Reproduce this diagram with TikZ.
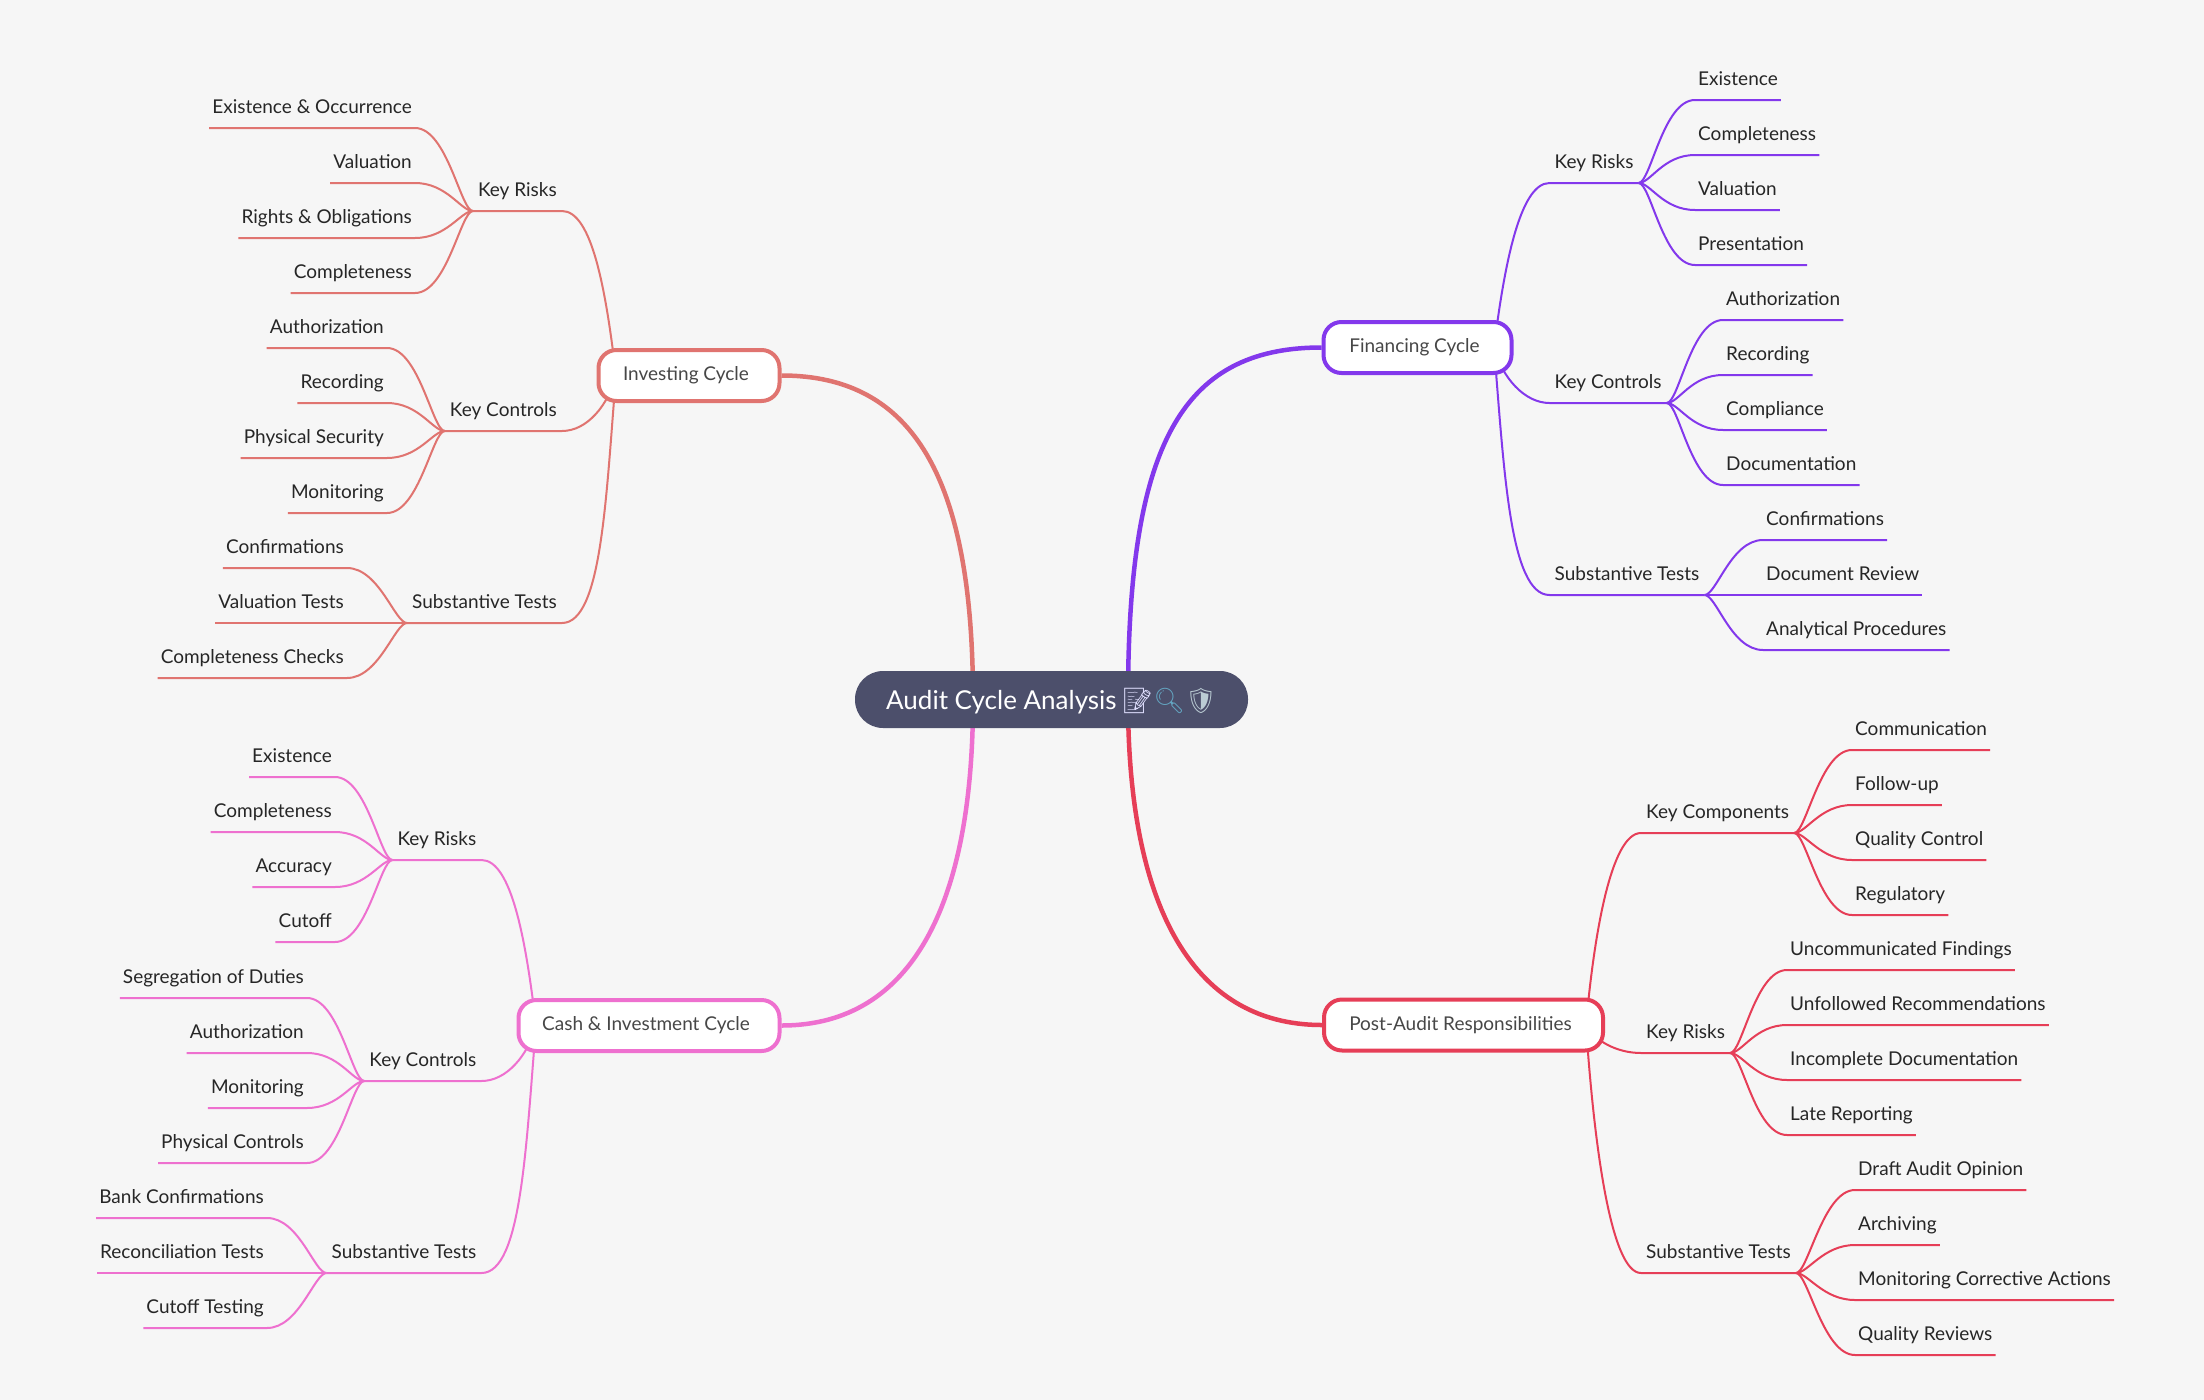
\documentclass[tikz,border=0pt]{standalone}
\usepackage{fontspec}
\setmainfont{Lato}
\newfontfamily\emojifont{Noto Emoji}
\usepackage{xcolor}
\usepackage{tikz}
\usetikzlibrary{backgrounds}
\definecolor{bgc}{HTML}{F6F6F6}
\definecolor{rootc}{HTML}{4C4F6B}
\definecolor{finc}{HTML}{8338EC}
\definecolor{audc}{HTML}{E63E57}
\definecolor{invc}{HTML}{E07470}
\definecolor{cashc}{HTML}{EE70CF}
\tikzset{
  word/.style={font=\fontsize{19}{22}\selectfont,text=black!85,inner ysep=0pt,text height=14pt,text depth=14pt},
  sub/.style={word,inner xsep=5pt},
  leaf/.style={word,inner xsep=3pt},
  box/.style={draw=#1,fill=white,line width=4pt,rounded corners=18pt,minimum height=51pt,inner sep=0pt,
    font=\fontsize{19}{22}\selectfont,text=black!72,execute at end node={\hspace{6pt}}},
  rootbox/.style={fill=rootc,text=white,rounded corners=28pt,minimum width=393pt,minimum height=57pt,inner sep=0pt,
    text height=24pt,text depth=5pt,font=\fontsize{26}{30}\selectfont},
  main/.style={draw=#1,line width=4.5pt},
  thin/.style={draw=#1,line width=2pt}
}
\begin{document}
\begin{tikzpicture}[x=1pt,y=-1pt]
  \useasboundingbox (0,0) rectangle (2204,1400);
  \node[rootbox] (root) at (1051.5,699.5) {Audit Cycle Analysis\hspace{5pt}{\emojifont\fontsize{25}{30}\selectfont\textcolor{blue!12!white}{📝}\textcolor{cyan!50!gray}{🔍}\textcolor{cyan!25!gray!50!white}{🛡}}\hspace{1pt}};
  \coordinate (rootr) at (1128,700);
  \coordinate (rootl) at (973,700);

  % financing
  \node[box=finc,minimum width=188pt] (fin) at (1417.5,347.5) {Financing Cycle};
  \coordinate (fins) at (1494,347.5);
  \node[sub,anchor=south west] (finkr) at (1549.5,183) {Key Risks};
  \node[sub,anchor=south west] (fincn) at (1549.5,403) {Key Controls};
  \node[sub,anchor=south west] (finst) at (1549.5,595) {Substantive Tests};
  \node[leaf,anchor=south west] (finkra) at (1695,100) {Existence};
  \node[leaf,anchor=south west] (finkrb) at (1695,155) {Completeness};
  \node[leaf,anchor=south west] (finkrc) at (1695,210) {Valuation};
  \node[leaf,anchor=south west] (finkrd) at (1695,265) {Presentation};
  \node[leaf,anchor=south west] (fincna) at (1723,320) {Authorization};
  \node[leaf,anchor=south west] (fincnb) at (1723,375) {Recording};
  \node[leaf,anchor=south west] (fincnc) at (1723,430) {Compliance};
  \node[leaf,anchor=south west] (fincnd) at (1723,485) {Documentation};
  \node[leaf,anchor=south west] (finsta) at (1763,540) {Confirmations};
  \node[leaf,anchor=south west] (finstb) at (1763,595) {Document Review};
  \node[leaf,anchor=south west] (finstc) at (1763,650) {Analytical Procedures};

  % post-audit
  \node[box=audc,minimum width=279pt] (aud) at (1463.5,1025) {Post-Audit Responsibilities};
  \coordinate (auds) at (1586,1025);
  \node[sub,anchor=south west] (audkc) at (1641,833) {Key Components};
  \node[sub,anchor=south west] (audkr) at (1641,1053) {Key Risks};
  \node[sub,anchor=south west] (audst) at (1641,1273) {Substantive Tests};
  \node[leaf,anchor=south west] (audkca) at (1852,750) {Communication};
  \node[leaf,anchor=south west] (audkcb) at (1852,805) {Follow-up};
  \node[leaf,anchor=south west] (audkcc) at (1852,860) {Quality Control};
  \node[leaf,anchor=south west] (audkcd) at (1852,915) {Regulatory};
  \node[leaf,anchor=south west] (audkra) at (1787,970) {Uncommunicated Findings};
  \node[leaf,anchor=south west] (audkrb) at (1787,1025) {Unfollowed Recommendations};
  \node[leaf,anchor=south west] (audkrc) at (1787,1080) {Incomplete Documentation};
  \node[leaf,anchor=south west] (audkrd) at (1787,1135) {Late Reporting};
  \node[leaf,anchor=south west] (audsta) at (1855,1190) {Draft Audit Opinion};
  \node[leaf,anchor=south west] (audstb) at (1855,1245) {Archiving};
  \node[leaf,anchor=south west] (audstc) at (1855,1300) {Monitoring Corrective Actions};
  \node[leaf,anchor=south west] (audstd) at (1855,1355) {Quality Reviews};

  % investing
  \node[box=invc,minimum width=181pt] (inv) at (689,375.5) {Investing Cycle};
  \coordinate (invs) at (616,375.5);
  \node[sub,anchor=south east] (invkr) at (562,211) {Key Risks};
  \node[sub,anchor=south east] (invcn) at (562,431) {Key Controls};
  \node[sub,anchor=south east] (invst) at (562,623) {Substantive Tests};
  \node[leaf,anchor=south east] (invkra) at (415,128) {Existence \& Occurrence};
  \node[leaf,anchor=south east] (invkrb) at (415,183) {Valuation};
  \node[leaf,anchor=south east] (invkrc) at (415,238) {Rights \& Obligations};
  \node[leaf,anchor=south east] (invkrd) at (415,293) {Completeness};
  \node[leaf,anchor=south east] (invcna) at (387,348) {Authorization};
  \node[leaf,anchor=south east] (invcnb) at (387,403) {Recording};
  \node[leaf,anchor=south east] (invcnc) at (387,458) {Physical Security};
  \node[leaf,anchor=south east] (invcnd) at (387,513) {Monitoring};
  \node[leaf,anchor=south east] (invsta) at (347,568) {Confirmations};
  \node[leaf,anchor=south east] (invstb) at (347,623) {Valuation Tests};
  \node[leaf,anchor=south east] (invstc) at (347,678) {Completeness Checks};

  % cash
  \node[box=cashc,minimum width=261pt] (cash) at (649,1025.5) {Cash \& Investment Cycle};
  \coordinate (cashs) at (536,1025.5);
  \node[sub,anchor=south east] (cashkr) at (481.5,860) {Key Risks};
  \node[sub,anchor=south east] (cashcn) at (481.5,1081) {Key Controls};
  \node[sub,anchor=south east] (cashst) at (481.5,1273) {Substantive Tests};
  \node[leaf,anchor=south east] (cashkra) at (335,777) {Existence};
  \node[leaf,anchor=south east] (cashkrb) at (335,832) {Completeness};
  \node[leaf,anchor=south east] (cashkrc) at (335,887) {Accuracy};
  \node[leaf,anchor=south east] (cashkrd) at (335,942) {Cutoff};
  \node[leaf,anchor=south east] (cashcna) at (307,998) {Segregation of Duties};
  \node[leaf,anchor=south east] (cashcnb) at (307,1053) {Authorization};
  \node[leaf,anchor=south east] (cashcnc) at (307,1108) {Monitoring};
  \node[leaf,anchor=south east] (cashcnd) at (307,1163) {Physical Controls};
  \node[leaf,anchor=south east] (cashsta) at (267,1218) {Bank Confirmations};
  \node[leaf,anchor=south east] (cashstb) at (267,1273) {Reconciliation Tests};
  \node[leaf,anchor=south east] (cashstc) at (267,1328) {Cutoff Testing};

  \begin{pgfonlayer}{background}
    \fill[bgc] (0,0) rectangle (2204,1400);
    \draw[main=finc] (rootr) .. controls +(0,-250) and +(-143,0) .. (fin.west);
    \draw[main=audc] (rootr) .. controls +(0,200) and +(-133,0) .. (aud.west);
    \draw[main=invc] (rootl) .. controls +(0,-220) and +(133,0) .. (inv.east);
    \draw[main=cashc] (rootl) .. controls +(0,200) and +(133,0) .. (cash.east);

    \draw[thin=finc] (fins) .. controls +(10,-80) and +(-30,0) .. (finkr.south west) -- (finkr.south east);
    \draw[thin=finc] (fins) .. controls +(8,30) and +(-25,0) .. (fincn.south west) -- (fincn.south east);
    \draw[thin=finc] (fins) .. controls +(10,120) and +(-40,0) .. (finst.south west) -- (finst.south east);
    \foreach \n in {finkra,finkrb,finkrc,finkrd} \draw[thin=finc] (finkr.south east) .. controls +(12,0) and +(-32,0) .. (\n.south west) -- (\n.south east);
    \foreach \n in {fincna,fincnb,fincnc,fincnd} \draw[thin=finc] (fincn.south east) .. controls +(12,0) and +(-32,0) .. (\n.south west) -- (\n.south east);
    \foreach \n in {finsta,finstb,finstc} \draw[thin=finc] (finst.south east) .. controls +(12,0) and +(-32,0) .. (\n.south west) -- (\n.south east);

    \draw[thin=audc] (auds) .. controls +(8,-90) and +(-30,0) .. (audkc.south west) -- (audkc.south east);
    \draw[thin=audc] (auds) .. controls +(8,15) and +(-25,0) .. (audkr.south west) -- (audkr.south east);
    \draw[thin=audc] (auds) .. controls +(8,120) and +(-30,0) .. (audst.south west) -- (audst.south east);
    \foreach \n in {audkca,audkcb,audkcc,audkcd} \draw[thin=audc] (audkc.south east) .. controls +(12,0) and +(-32,0) .. (\n.south west) -- (\n.south east);
    \foreach \n in {audkra,audkrb,audkrc,audkrd} \draw[thin=audc] (audkr.south east) .. controls +(12,0) and +(-32,0) .. (\n.south west) -- (\n.south east);
    \foreach \n in {audsta,audstb,audstc,audstd} \draw[thin=audc] (audst.south east) .. controls +(12,0) and +(-32,0) .. (\n.south west) -- (\n.south east);

    \draw[thin=invc] (invs) .. controls +(-10,-85) and +(30,0) .. (invkr.south east) -- (invkr.south west);
    \draw[thin=invc] (invs) .. controls +(-8,30) and +(25,0) .. (invcn.south east) -- (invcn.south west);
    \draw[thin=invc] (invs) .. controls +(-10,120) and +(40,0) .. (invst.south east) -- (invst.south west);
    \foreach \n in {invkra,invkrb,invkrc,invkrd} \draw[thin=invc] (invkr.south west) .. controls +(-12,0) and +(32,0) .. (\n.south east) -- (\n.south west);
    \foreach \n in {invcna,invcnb,invcnc,invcnd} \draw[thin=invc] (invcn.south west) .. controls +(-12,0) and +(32,0) .. (\n.south east) -- (\n.south west);
    \foreach \n in {invsta,invstb,invstc} \draw[thin=invc] (invst.south west) .. controls +(-12,0) and +(32,0) .. (\n.south east) -- (\n.south west);

    \draw[thin=cashc] (cashs) .. controls +(-10,-85) and +(30,0) .. (cashkr.south east) -- (cashkr.south west);
    \draw[thin=cashc] (cashs) .. controls +(-8,30) and +(25,0) .. (cashcn.south east) -- (cashcn.south west);
    \draw[thin=cashc] (cashs) .. controls +(-10,120) and +(40,0) .. (cashst.south east) -- (cashst.south west);
    \foreach \n in {cashkra,cashkrb,cashkrc,cashkrd} \draw[thin=cashc] (cashkr.south west) .. controls +(-12,0) and +(32,0) .. (\n.south east) -- (\n.south west);
    \foreach \n in {cashcna,cashcnb,cashcnc,cashcnd} \draw[thin=cashc] (cashcn.south west) .. controls +(-12,0) and +(32,0) .. (\n.south east) -- (\n.south west);
    \foreach \n in {cashsta,cashstb,cashstc} \draw[thin=cashc] (cashst.south west) .. controls +(-12,0) and +(32,0) .. (\n.south east) -- (\n.south west);
  \end{pgfonlayer}
\end{tikzpicture}
\end{document}
